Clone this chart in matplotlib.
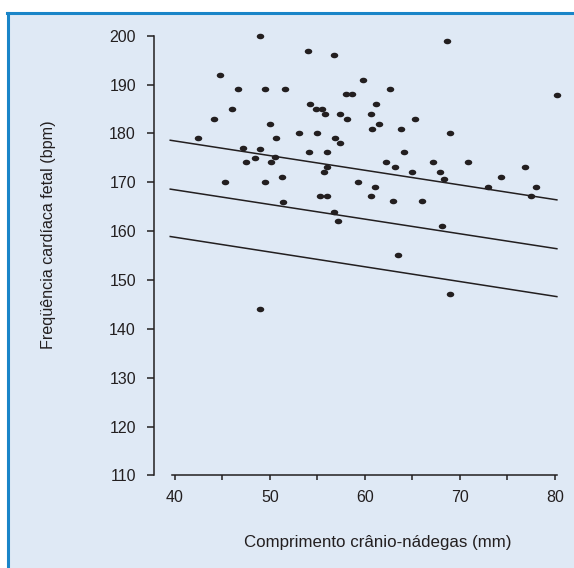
# -*- coding: utf-8 -*-
# FC fetal x CCN: dispersão com três retas

import numpy as np
import matplotlib
matplotlib.use("Agg")
import matplotlib.pyplot as plt
import matplotlib.patches as patches
from matplotlib.lines import Line2D

plt.rcParams['font.family'] = ['Liberation Sans', 'DejaVu Sans']

# dados
ccn = [48.9, 44.7, 46.6, 49.5, 51.6, 46.0, 44.1, 50.0, 53.1, 42.4,
       50.6, 47.2, 49.0, 48.4, 50.5, 47.5, 50.1, 45.3, 49.5, 51.3,
       51.4, 54.0, 56.7, 59.8, 62.6, 58.0, 58.6, 54.2, 54.8, 55.5,
       55.8, 57.4, 58.1, 61.2, 60.6, 61.5, 60.7, 63.8, 65.3, 55.0,
       56.8, 57.4, 54.1, 56.0, 64.1, 62.2, 63.2, 65.0, 56.0, 55.7,
       59.3, 61.1, 55.3, 56.0, 60.6, 63.0, 66.0, 56.7, 57.2, 68.1,
       63.5, 69.0, 49.0, 77.5, 68.6, 80.2, 69.0, 67.2, 70.8, 67.9,
       68.3, 74.3, 76.8, 73.0, 78.0]
fc = [200, 192, 189, 189, 189, 185, 183, 182, 180, 179,
      179, 177, 176.8, 175, 175.1, 174.1, 174.1, 170.1, 170.1, 171.1,
      165.9, 196.9, 196.0, 191.0, 189.0, 188, 188, 186, 185, 185,
      184, 184, 183, 186, 184, 182, 181, 181, 183, 180,
      179, 178, 176.1, 176.1, 176.1, 174.1, 173.1, 172.1, 173.1, 172.1,
      170.1, 169.1, 167.1, 167.1, 167.1, 166.1, 166.1, 164.0, 162.1, 161.1,
      155.1, 147.1, 144.1, 167.1, 199, 187.9, 180, 174.1, 174.1, 172.1,
      170.7, 171.1, 173.1, 169.0, 169.0]

reta_x = [39.5, 80.2]
reta_sup = [178.6, 166.4]
reta_med = [168.6, 156.4]
reta_inf = [158.9, 146.6]

xticks = [40, 50, 60, 70, 80]
xminor = [45, 55, 65, 75]
yticks = [110, 120, 130, 140, 150, 160, 170, 180, 190, 200]

cor = '#231f20'
fundo = '#dfe9f5'
azul = '#1a85c8'

fig = plt.figure(figsize=(5.74, 5.68), dpi=100)
W, H = 574.0, 568.0

# painel azul claro com borda
fig.patches.append(patches.Rectangle((7 / W, 0), 1 - 7 / W, 1 - 12 / H,
                                     transform=fig.transFigure,
                                     facecolor=fundo, edgecolor='none', zorder=-5))
fig.lines.append(Line2D([7 / W, 1], [1 - 12.5 / H, 1 - 12.5 / H],
                        transform=fig.transFigure, color=azul, lw=2.2, zorder=-4))
fig.lines.append(Line2D([8 / W, 8 / W], [0, 1 - 12.5 / H],
                        transform=fig.transFigure, color=azul, lw=2.2, zorder=-4))

ax = fig.add_axes([154 / W, 0.1629, 0.7085, 0.7829])
ax.set_facecolor('none')

# marcador elíptico
t = np.linspace(0, 2 * np.pi, 41)
elipse = list(zip(1.35 * np.cos(t), np.sin(t)))

ax.plot(ccn, fc, linestyle='none', marker=elipse, markersize=5.4,
        color=cor, markeredgewidth=0)
for yy in (reta_sup, reta_med, reta_inf):
    ax.plot(reta_x, yy, color=cor, lw=1.1)

ax.set_xlim(37.79, 80.6)
ax.set_ylim(110, 201)

for s in ('top', 'right'):
    ax.spines[s].set_visible(False)
ax.spines['left'].set_bounds(110, 200)
ax.spines['bottom'].set_bounds(39.68, 80.2)
for s in ('left', 'bottom'):
    ax.spines[s].set_linewidth(1.1)
    ax.spines[s].set_color(cor)

ax.set_xticks(xticks)
ax.set_xticks(xminor, minor=True)
ax.set_yticks(yticks)
ax.tick_params(axis='x', which='both', direction='out', length=3.5, width=1.1,
               color=cor, labelsize=11.5, labelcolor=cor, pad=7)
ax.tick_params(axis='y', direction='out', length=5, width=1.1,
               color=cor, labelsize=11.5, labelcolor=cor, pad=8)

fig.text(378 / W, 1 - 542 / H, 'Comprimento crânio-nádegas (mm)',
         ha='center', va='center', fontsize=12.2, color=cor)
fig.text(48 / W, 1 - 234.5 / H, 'Freqüência cardíaca fetal (bpm)',
         ha='center', va='center', rotation=90, fontsize=11.6, color=cor)

fig.savefig('out.png', dpi=100, facecolor='white')
